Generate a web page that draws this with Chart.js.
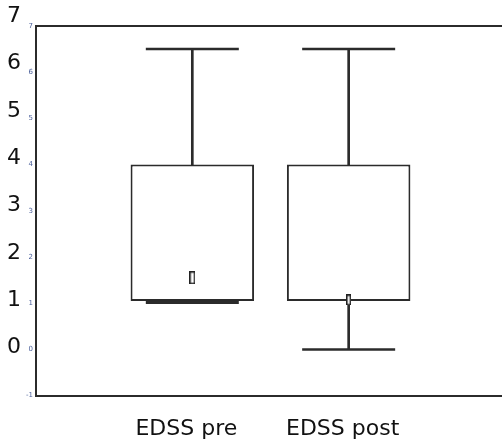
<!DOCTYPE html>
<html>
<head>
<meta charset="utf-8">
<script src="https://cdn.jsdelivr.net/npm/chart.js@4.4.1/dist/chart.umd.min.js"></script>
<style>
  html, body { margin: 0; padding: 0; background: #fff; overflow: hidden; }
  #wrap { width: 505px; height: 443px; }
</style>
</head>
<body>
<div id="wrap"><canvas id="boxChart"></canvas></div>
<script>
// box plot values
const categories = ["EDSS pre", "EDSS post"];
const whiskerMax = [6.5, 6.5];
const q3 = [4.0, 4.0];
const q1 = [1.05, 1.05];
const whiskerMin = [null, 0];
const medians = [1.02, null];
const means = [1.55, 1.07];
const yTicks = [-1, 0, 1, 2, 3, 4, 5, 6, 7];

const INK = "#2b2b2b";
const labels = ["", ...categories, ""];
const pad = (arr) => [null, ...arr, null];

// little outlined rectangle used for the mean
function markerImage(w, h) {
  const c = document.createElement("canvas");
  c.width = w;
  c.height = h;
  const g = c.getContext("2d");
  g.fillStyle = "#fff";
  g.fillRect(0, 0, w, h);
  g.strokeStyle = "#222";
  g.lineWidth = 1.5;
  g.strokeRect(0.75, 0.75, w - 1.5, h - 1.5);
  return c;
}

// keep the axes from reserving room for half-labels at their ends
function noEdgePadding(axis) {
  axis.paddingTop = 0;
  axis.paddingBottom = 0;
  axis.paddingLeft = 0;
  axis.paddingRight = 0;
}

const boxes = {
  type: "bar",
  data: pad(categories.map((_, i) => [q1[i], q3[i]])),
  backgroundColor: "#fff",
  borderColor: INK,
  borderWidth: 2,
  borderSkipped: false,
  barPercentage: 0.79,
  categoryPercentage: 1,
  grouped: false,
  order: 5,
};

const upperStems = {
  type: "bar",
  data: pad(categories.map((_, i) => [q3[i], whiskerMax[i]])),
  backgroundColor: INK,
  barThickness: 2,
  grouped: false,
  order: 6,
};

const lowerStems = {
  type: "bar",
  data: pad(categories.map((_, i) => (whiskerMin[i] == null ? null : [whiskerMin[i], q1[i]]))),
  backgroundColor: INK,
  barThickness: 2,
  grouped: false,
  order: 6,
};

function capLine(values, width, radius) {
  return {
    type: "line",
    data: pad(values),
    showLine: false,
    pointStyle: "line",
    pointRadius: radius,
    pointBorderWidth: width,
    pointBorderColor: INK,
    order: 2,
  };
}

const meanPoints = {
  type: "line",
  data: pad(means),
  showLine: false,
  pointStyle: [null, markerImage(6, 13), markerImage(5, 11), null],
  order: 0,
};

new Chart(document.getElementById("boxChart"), {
  data: {
    labels,
    datasets: [
      boxes,
      upperStems,
      lowerStems,
      capLine(whiskerMax, 2.5, 46.5),
      capLine(whiskerMin, 2.5, 46.5),
      capLine(medians, 3.5, 46.5),
      meanPoints,
    ],
  },
  options: {
    responsive: true,
    maintainAspectRatio: false,
    animation: false,
    // tick padding counts twice in the axis size, hence the negative bottom
    layout: { autoPadding: false, padding: { left: 5, top: 26, right: 0, bottom: -19 } },
    scales: {
      x: {
        type: "category",
        offset: false,
        afterFit: noEdgePadding,
        grid: { display: false, drawTicks: false },
        border: { display: true, color: INK, width: 2 },
        ticks: {
          autoSkip: false,
          maxRotation: 0,
          minRotation: 0,
          padding: 20,
          labelOffset: -6,
          color: "#111",
          font: { family: "DejaVu Sans", size: 22 },
        },
      },
      xTop: {
        type: "category",
        position: "top",
        offset: false,
        afterFit: noEdgePadding,
        grid: { display: false, drawTicks: false },
        border: { display: true, color: INK, width: 2 },
        ticks: { display: false },
      },
      y: {
        min: -1,
        max: 7,
        weight: 0,
        afterFit: noEdgePadding,
        grid: { display: false, drawTicks: false },
        border: { display: true, color: INK, width: 2 },
        afterBuildTicks: (axis) => {
          axis.ticks = yTicks.map((v) => ({ value: v }));
        },
        ticks: {
          padding: 3,
          color: "#4a5f9a",
          font: { family: "DejaVu Sans", size: 7 },
          callback: (v) => String(v),
        },
      },
      yBig: {
        position: "left",
        min: -1.01,
        max: 6.79,
        weight: 1,
        afterFit: noEdgePadding,
        grid: { display: false, drawTicks: false },
        border: { display: false },
        afterBuildTicks: (axis) => {
          axis.ticks = yTicks.filter((v) => v >= 0).map((v) => ({ value: v }));
        },
        ticks: {
          padding: 2,
          color: "#111",
          font: { family: "DejaVu Sans", size: 22 },
        },
      },
    },
    plugins: {
      legend: { display: false },
      tooltip: { enabled: false },
    },
  },
});
</script>
</body>
</html>
